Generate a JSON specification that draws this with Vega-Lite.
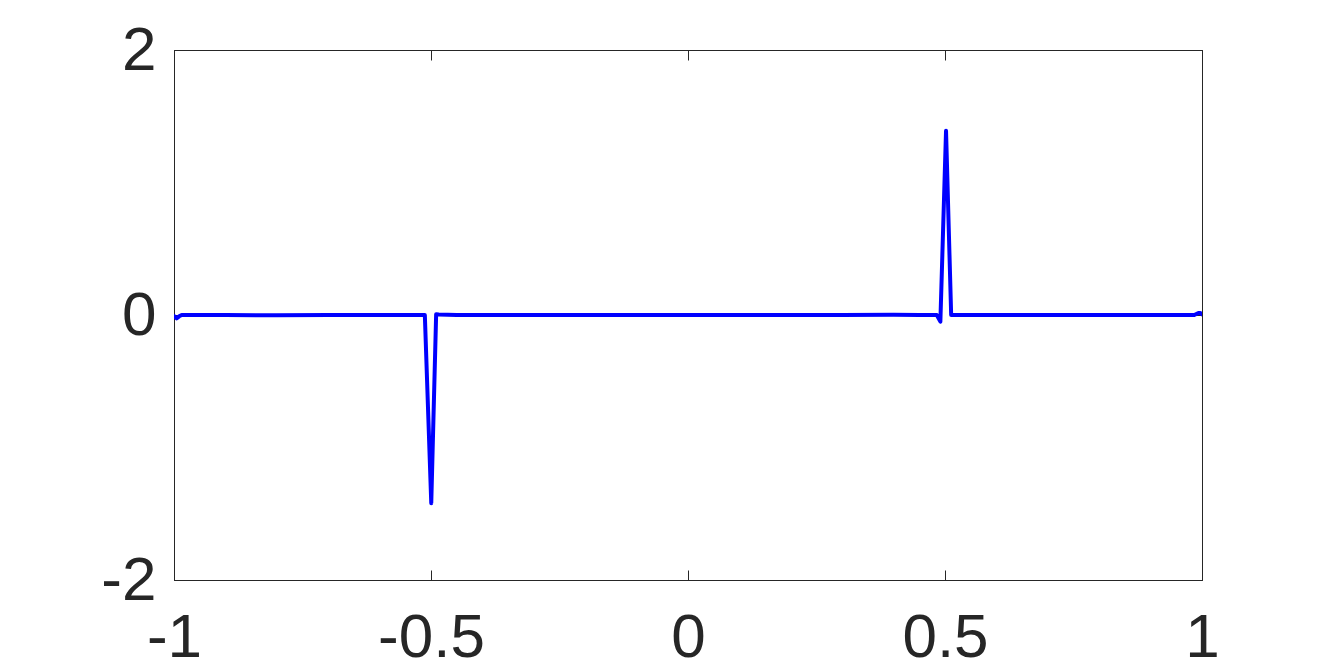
{
  "$schema": "https://vega.github.io/schema/vega-lite/v6.json",
  "autosize": "none",
  "width": 1028,
  "height": 530,
  "padding": {"left": 174, "top": 50, "right": 128, "bottom": 92},
  "background": "white",
  "config": {
    "view": {"stroke": "#262626", "strokeWidth": 1},
    "axis": {
      "grid": false,
      "domainColor": "#262626",
      "domainWidth": 1,
      "tickColor": "#262626",
      "tickWidth": 1,
      "tickSize": -10,
      "labelFont": "Liberation Sans",
      "labelFontSize": 62,
      "labelColor": "#262626",
      "labelExpr": "'' + datum.value",
      "title": null
    }
  },
  "data": {
    "values": [
      {"x": -1.0, "y": -0.008},
      {"x": -0.995, "y": -0.025},
      {"x": -0.99, "y": -0.01},
      {"x": -0.985, "y": 0.0},
      {"x": -0.9, "y": 0.0},
      {"x": -0.8, "y": -0.002},
      {"x": -0.7, "y": 0.0},
      {"x": -0.6, "y": 0.0},
      {"x": -0.55, "y": 0.0},
      {"x": -0.512, "y": 0.0},
      {"x": -0.4995, "y": -1.42},
      {"x": -0.49, "y": 0.005},
      {"x": -0.485, "y": 0.003},
      {"x": -0.45, "y": 0.0},
      {"x": -0.4, "y": 0.0},
      {"x": -0.3, "y": 0.0},
      {"x": -0.2, "y": 0.0},
      {"x": -0.1, "y": 0.0},
      {"x": 0.0, "y": 0.0},
      {"x": 0.1, "y": 0.0},
      {"x": 0.2, "y": 0.0},
      {"x": 0.3, "y": 0.0},
      {"x": 0.4, "y": 0.002},
      {"x": 0.45, "y": 0.0},
      {"x": 0.484, "y": 0.0},
      {"x": 0.491, "y": -0.05},
      {"x": 0.502, "y": 1.39},
      {"x": 0.512, "y": 0.0},
      {"x": 0.52, "y": 0.0},
      {"x": 0.6, "y": 0.0},
      {"x": 0.7, "y": 0.0},
      {"x": 0.8, "y": 0.0},
      {"x": 0.9, "y": 0.0},
      {"x": 0.985, "y": 0.0},
      {"x": 0.993, "y": 0.015},
      {"x": 0.997, "y": 0.015},
      {"x": 1.0, "y": 0.005}
    ]
  },
  "layer": [
    {
      "mark": {"type": "line", "color": "#0000FF", "strokeWidth": 4, "strokeJoin": "round", "strokeCap": "round", "clip": true},
      "encoding": {
        "x": {"field": "x", "type": "quantitative",
              "scale": {"domain": [-1, 1], "nice": false, "zero": false},
              "axis": {"orient": "bottom", "values": [-1, -0.5, 0, 0.5, 1], "labelPadding": 37, "labelFlush": false, "labelOverlap": false}},
        "y": {"field": "y", "type": "quantitative",
              "scale": {"domain": [-2, 2], "nice": false, "zero": false},
              "axis": {"orient": "left", "values": [-2, 0, 2], "labelPadding": 28, "labelFlush": false, "labelOverlap": false}}
      }
    },
    {
      "mark": {"type": "line", "opacity": 0},
      "encoding": {
        "x": {"field": "x", "type": "quantitative",
              "scale": {"domain": [-1, 1], "nice": false, "zero": false},
              "axis": {"orient": "top", "values": [-1, -0.5, 0, 0.5, 1], "labels": false}},
        "y": {"field": "y", "type": "quantitative",
              "scale": {"domain": [-2, 2], "nice": false, "zero": false},
              "axis": {"orient": "right", "values": [-2, 0, 2], "labels": false}}
      }
    }
  ],
  "resolve": {"axis": {"x": "independent", "y": "independent"}}
}
